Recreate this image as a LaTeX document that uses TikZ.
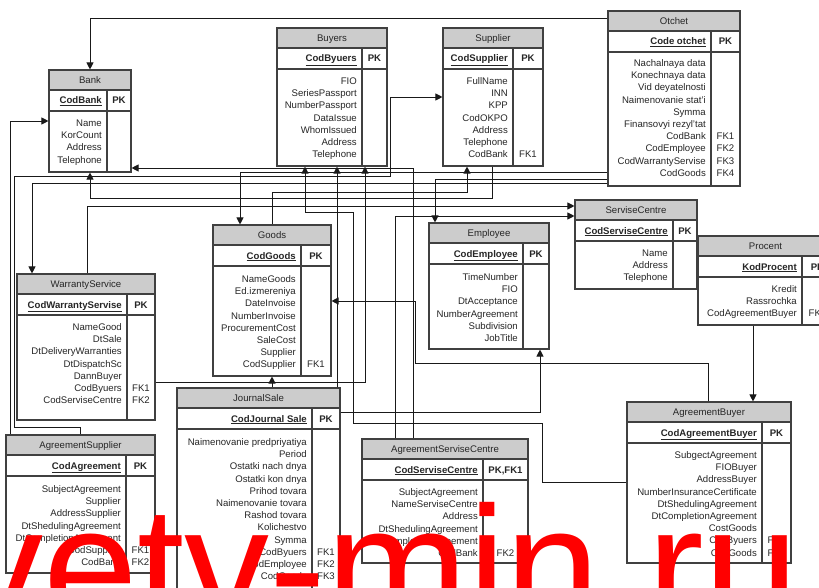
\documentclass[tikz,border=0pt]{standalone}
\usepackage{fontspec}
\setmainfont{Liberation Sans}
\usetikzlibrary{arrows.meta,fit}

\tikzset{
  tabbox/.style={draw=black!75, line width=1.1pt, inner sep=0pt},
  tabline/.style={draw=black!75, line width=1.1pt},
  headfill/.style={fill=gray!40},
  tabtitle/.style={font=\fontsize{9.6}{11}\selectfont, text=black!85, anchor=base, inner sep=0pt},
  keyname/.style={font=\fontsize{9.6}{11}\selectfont\bfseries, text=black!85, anchor=base east, inner sep=0pt},
  keymark/.style={font=\fontsize{9.6}{11}\selectfont\bfseries, text=black!85, anchor=base, inner sep=0pt},
  field/.style={font=\fontsize{9.6}{11}\selectfont, text=black!85, anchor=base east, inner sep=0pt},
  fkmark/.style={font=\fontsize{9.6}{11}\selectfont, text=black!85, anchor=base, inner sep=0pt},
  rel/.style={draw=black!90, line width=0.9pt, -{Triangle[length=7pt,width=7pt]}},
  wmark/.style={font=\fontsize{170}{170}\selectfont, text=red, anchor=base west, inner sep=0pt}
}

% table: name (left,top,divider,right,bottom) {title}{key}{key mark}
\def\ertable#1(#2,#3,#4,#5,#6)#7#8#9{%
  \fill[white] (#2,#3) rectangle (#5,#6);
  \fill[headfill] (#2,#3) rectangle (#5,#3+20);
  \node[tabtitle] (#1-title) at ({(#2+#5)/2},#3+13.5) {#7};
  \draw[tabline] (#2,#3+20) -- (#5,#3+20);
  \draw[tabline] (#2,#3+41) -- (#5,#3+41);
  \draw[tabline] (#4,#3+20) -- (#4,#6);
  \node[keyname] (#1-key) at (#4-5,#3+34) {\underline{#8}};
  \node[keymark] (#1-mark) at ({(#4+#5)/2},#3+34) {#9};
  \node[tabbox, fit={(#2,#3) (#5,#6)}] (#1) {};
}

% fields: name, divider, right, first row, list of field/fk
\newcommand{\erfields}[5]{%
  \foreach \txt/\fk [count=\k from 0] in {#5} {
    \node[field] (#1-f\k) at (#2-5,{#4+3.5+\k*12.2}) {\txt};
    \node[fkmark] (#1-k\k) at ({(#2+#3)/2},{#4+3.5+\k*12.2}) {\fk};
  }
}

\begin{document}
\begin{tikzpicture}[x=1pt,y=-1pt]
  \useasboundingbox (0,0) rectangle (819,588);
  \clip (0,0) rectangle (819,588);

  % Tables
  \ertable{bank}(49,70,107,131,172){Bank}{CodBank}{PK}
  \erfields{bank}{107}{131}{123}{Name/{},KorCount/{},Address/{},Telephone/{}}

  \ertable{buyers}(277,28,362,387,166){Buyers}{CodByuers}{PK}
  \erfields{buyers}{362}{387}{81}{FIO/{},SeriesPassport/{},NumberPassport/{},DataIssue/{},WhomIssued/{},Address/{},Telephone/{}}

  \ertable{supplier}(443,28,513,543,166){Supplier}{CodSupplier}{PK}
  \erfields{supplier}{513}{543}{81}{FullName/{},INN/{},KPP/{},CodOKPO/{},Address/{},Telephone/{},CodBank/FK1}

  \ertable{otchet}(608,11,711,740,186){Otchet}{Code otchet}{PK}
  \erfields{otchet}{711}{740}{63}{Nachalnaya data/{},Konechnaya data/{},Vid deyatelnosti/{},Naimenovanie stat'i/{},Symma/{},Finansovyi rezyl'tat/{},CodBank/FK1,CodEmployee/FK2,CodWarrantyServise/FK3,CodGoods/FK4}

  \ertable{goods}(213,225,301,331,376){Goods}{CodGoods}{PK}
  \erfields{goods}{301}{331}{279}{NameGoods/{},Ed.izmereniya/{},DateInvoise/{},NumberInvoise/{},ProcurementCost/{},SaleCost/{},Supplier/{},CodSupplier/FK1}

  \ertable{employee}(429,223,523,549,349){Employee}{CodEmployee}{PK}
  \erfields{employee}{523}{549}{277}{TimeNumber/{},FIO/{},DtAcceptance/{},NumberAgreement/{},Subdivision/{},JobTitle/{}}

  \ertable{servcentre}(575,200,673,697,289){ServiseCentre}{CodServiseCentre}{PK}
  \erfields{servcentre}{673}{697}{253}{Name/{},Address/{},Telephone/{}}

  \ertable{procent}(698,236,802,833,325){Procent}{KodProcent}{PK}
  \erfields{procent}{802}{833}{289}{Kredit/{},Rassrochka/{},CodAgreementBuyer/FK1}

  \ertable{warranty}(17,274,127,155,420){WarrantyService}{CodWarrantyServise}{PK}
  \erfields{warranty}{127}{155}{327}{NameGood/{},DtSale/{},DtDeliveryWarranties/{},DtDispatchSc/{},DannBuyer/{},CodByuers/FK1,CodServiseCentre/FK2}

  \ertable{journal}(177,388,312,340,596){JournalSale}{CodJournal Sale}{PK}
  \erfields{journal}{312}{340}{442}{Naimenovanie predpriyatiya/{},Period/{},Ostatki nach dnya/{},Ostatki kon dnya/{},Prihod tovara/{},Naimenovanie tovara/{},Rashod tovara/{},Kolichestvo/{},Symma/{},CodByuers/FK1,CodEmployee/FK2,CodGoods/FK3}

  \ertable{agrsupplier}(6,435,126,155,573){AgreementSupplier}{CodAgreement}{PK}
  \erfields{agrsupplier}{126}{155}{489}{SubjectAgreement/{},Supplier/{},AddressSupplier/{},DtShedulingAgreement/{},DtCompletionAgreement/{},CodSupplier/FK1,CodBank/FK2}

  \ertable{agrservice}(362,439,483,528,563){AgreementServiseCentre}{CodServiseCentre}{PK,FK1}
  \erfields{agrservice}{483}{528}{492}{SubjectAgreement/{},NameServiseCentre/{},Address/{},DtShedulingAgreement/{},DtCompletionAgreement/{},CodBank/FK2}

  \ertable{agrbuyer}(627,402,762,791,563){AgreementBuyer}{CodAgreementBuyer}{PK}
  \erfields{agrbuyer}{762}{791}{455}{SubgectAgreement/{},FIOBuyer/{},AddressBuyer/{},NumberInsuranceCertificate/{},DtShedulingAgreement/{},DtCompletionAgreement/{},CostGoods/{},CodByuers/FK1,CodGoods/FK2}

  % Otchet links
  \draw[rel] (otchet.west |- 0,18) -| (bank.north -| 90,0);
  \draw[rel] (otchet.west |- 0,172) -| (goods.north -| 240,0);
  \draw[rel] (otchet.west |- 0,179) -| (employee.north -| 435,0);
  \draw[rel] (otchet.west |- 0,183) -| (warranty.north -| 32,0);

  % Supplier and goods
  \draw[rel] (supplier.south -| 492,0) -- (492,198) -| (bank.south -| 90,0);
  \draw[rel] (goods.north -| 272,0) -- (272,192) -| (supplier.south -| 467,0);

  % Agreement supplier
  \draw[rel] (agrsupplier.north -| 10,0) |- (bank.west |- 0,121);
  \draw[rel] (agrsupplier.north -| 80,0) -- (80,427) -- (14,427) -- (14,176) -- (390,176) |- (supplier.west |- 0,97);

  % Warranty service
  \draw[rel] (warranty.north -| 87,0) |- (servcentre.west |- 0,206);
  \draw[rel] (warranty.east |- 0,382) -| (buyers.south -| 365,0);

  % Journal sale
  \draw[rel] (journal.north -| 337,0) -- (buyers.south -| 337,0);
  \draw[rel] (journal.north -| 272,0) -- (goods.south -| 272,0);
  \draw[rel] (journal.east |- 0,412) -| (employee.south -| 540,0);

  % Agreement servise centre
  \draw[rel] (agrservice.north -| 395,0) |- (servcentre.west |- 0,216);
  \draw[rel] (agrservice.north -| 413,0) |- (bank.east |- 0,168);

  % Agreement buyer and procent
  \draw[rel] (agrbuyer.west |- 0,482) -- (542,482) -- (542,423) -- (353,423) -- (353,212) -| (buyers.south -| 305,0);
  \draw[rel] (agrbuyer.north -| 708,0) |- (415,363) |- (goods.east |- 0,301);
  \draw[rel] (procent.south -| 753,0) -- (agrbuyer.north -| 753,0);

  % Watermark
  \node[wmark] (watermark) at (-42,625) {vetv-min.ru};
\end{tikzpicture}
\end{document}
